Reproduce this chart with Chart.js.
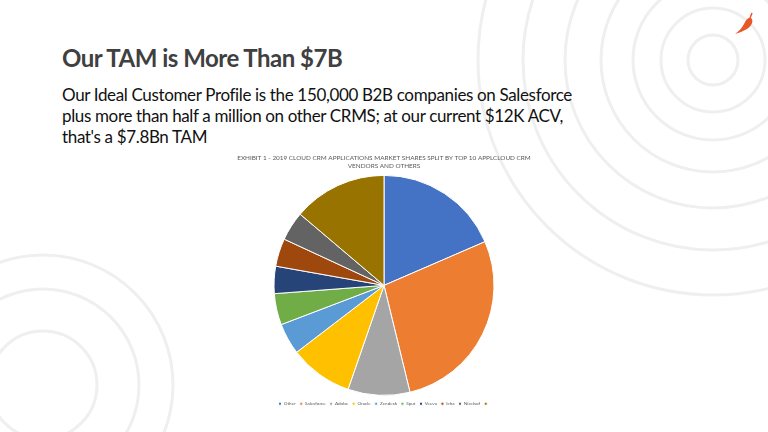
<!DOCTYPE html>
<html>
<head>
<meta charset="utf-8">
<script src="https://cdn.jsdelivr.net/npm/chart.js@4"></script>
<style>
  html, body { margin: 0; padding: 0; background: #fff; }
  body { width: 768px; height: 432px; position: relative; overflow: hidden; font-family: Lato, "Open Sans", sans-serif; }
  #deco { position: absolute; left: 0; top: 0; }
  h1 { position: absolute; left: 62px; top: 43px; margin: 0; font-size: 24px; letter-spacing: -0.5px; font-weight: bold; color: #404040; }
  .sub { position: absolute; left: 62px; top: 84px; margin: 0; font-size: 17px; letter-spacing: -0.35px; line-height: 21px; color: #111; }
  .box { position: absolute; left: 200px; top: 150px; width: 368px; height: 266px; }
  #logo { position: absolute; left: 732px; top: 12px; }
</style>
</head>
<body>
<svg id="deco" width="768" height="432">
  <g fill="none" stroke="#efefef" stroke-width="3">
    <circle cx="713" cy="60" r="25"/>
    <circle cx="713" cy="60" r="52"/>
    <circle cx="713" cy="60" r="80"/>
    <circle cx="713" cy="60" r="112"/>
    <circle cx="713" cy="60" r="148"/>
    <circle cx="713" cy="60" r="190"/>
    <circle cx="713" cy="60" r="235"/>
    <circle cx="43" cy="385" r="54"/>
    <circle cx="43" cy="385" r="96"/>
    <circle cx="43" cy="385" r="130"/>
  </g>
</svg>
<svg id="logo" width="24" height="24" viewBox="0 0 24 24">
  <path d="M19 6 C22 8 20 14 15 17 C11 19 7 21 3 22 C7 19 10 16 12 12 C14 8 16 5 19 6 Z" fill="#e8572a"/>
  <path d="M18 6 L20 1" stroke="#e8572a" stroke-width="1.5"/>
</svg>
<h1>Our TAM is More Than $7B</h1>
<p class="sub">Our Ideal Customer Profile is the 150,000 B2B companies on Salesforce<br>plus more than half a million on other CRMS; at our current $12K ACV,<br>that's a $7.8Bn TAM</p>
<div class="box"><canvas id="pie"></canvas></div>
<script>
// vendor shares (percent)
const vendors = ['Other', 'Salesforce', 'Adobe', 'Oracle', 'Zendesk', 'Sput', 'Veeva', 'Icha', 'Nicelsof', ''];
const shares = [18.5, 27.7, 9.1, 9.3, 4.6, 4.6, 4.0, 4.1, 4.3, 13.8];
const colors = ['#4472C4', '#ED7D31', '#A5A5A5', '#FFC000', '#5B9BD5', '#70AD47', '#264478', '#9E480E', '#636363', '#997300'];

const ctx = document.getElementById('pie').getContext('2d');
const chart = new Chart(ctx, {
  type: 'pie',
  data: {
    labels: vendors,
    datasets: [{
      data: shares,
      backgroundColor: colors,
      borderColor: '#fff',
      borderWidth: 1,
      radius: 110
    }]
  },
  options: {
    responsive: true,
    maintainAspectRatio: false,
    animation: false,
    plugins: {
      title: {
        display: true,
        text: ['EXHIBIT 1 - 2019 CLOUD CRM APPLICATIONS MARKET SHARES SPLIT BY TOP 10 APPLCLOUD CRM', 'VENDORS AND OTHERS'],
        color: '#595959',
        font: { family: 'Lato', size: 6.4, weight: 'normal' },
        padding: { top: 4, bottom: 4 }
      },
      legend: {
        position: 'bottom',
        labels: {
          color: '#595959',
          font: { family: 'Lato', size: 4.6 },
          boxWidth: 3,
          boxHeight: 3,
          padding: 4
        }
      },
      tooltip: { enabled: false }
    }
  }
});
</script>
</body>
</html>
